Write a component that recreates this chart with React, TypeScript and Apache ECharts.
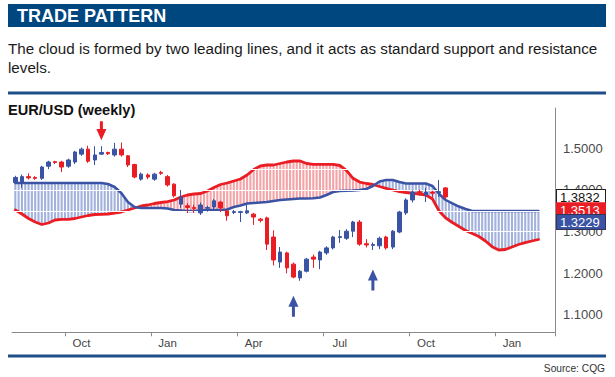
import React, { useEffect, useRef } from 'react';
import * as echarts from 'echarts';

// ---- data ----
const WEEK_START_UTC = Date.UTC(2009, 7, 3); // Monday of first weekly bar
const WEEK_COUNT = 82;
const MONTH_NAMES = ['Jan', 'Feb', 'Mar', 'Apr', 'May', 'Jun', 'Jul', 'Aug', 'Sep', 'Oct', 'Nov', 'Dec'];
const QUARTER_MONTHS = [0, 3, 6, 9];
const Y_TICKS = [1.1, 1.2, 1.3, 1.4, 1.5];
const PRICE_TAGS = [1.3832, 1.3513, 1.3229];
const CLOUD_GRID_LEVELS = [1.3, 1.35, 1.4, 1.45];

// weekly candles: [open, close, low, high]
const CANDLES = [
  [1.418, 1.430, 1.414, 1.434], [1.417, 1.432, 1.405, 1.437], [1.432, 1.429, 1.425, 1.440], [1.430, 1.428, 1.424, 1.433],
  [1.428, 1.455, 1.424, 1.458], [1.457, 1.467, 1.450, 1.470], [1.468, 1.466, 1.462, 1.470], [1.467, 1.455, 1.443, 1.470],
  [1.457, 1.472, 1.453, 1.475], [1.467, 1.491, 1.462, 1.494], [1.486, 1.498, 1.482, 1.502], [1.498, 1.469, 1.465, 1.506],
  [1.472, 1.484, 1.460, 1.505], [1.486, 1.490, 1.484, 1.505], [1.490, 1.487, 1.484, 1.492], [1.484, 1.498, 1.480, 1.513],
  [1.498, 1.484, 1.480, 1.514], [1.482, 1.460, 1.455, 1.484], [1.461, 1.431, 1.428, 1.463], [1.426, 1.438, 1.422, 1.442],
  [1.436, 1.431, 1.426, 1.440], [1.426, 1.438, 1.422, 1.441], [1.442, 1.440, 1.436, 1.446], [1.432, 1.412, 1.408, 1.436],
  [1.414, 1.386, 1.382, 1.416], [1.366, 1.383, 1.357, 1.400], [1.362, 1.358, 1.345, 1.368], [1.358, 1.355, 1.345, 1.365],
  [1.345, 1.364, 1.340, 1.370], [1.356, 1.358, 1.348, 1.362], [1.359, 1.374, 1.350, 1.378], [1.371, 1.357, 1.347, 1.374],
  [1.350, 1.338, 1.326, 1.352], [1.346, 1.348, 1.342, 1.352], [1.346, 1.348, 1.323, 1.350], [1.345, 1.350, 1.342, 1.364],
  [1.342, 1.335, 1.316, 1.345], [1.330, 1.327, 1.322, 1.333], [1.333, 1.270, 1.256, 1.336], [1.287, 1.232, 1.219, 1.303],
  [1.227, 1.251, 1.213, 1.263], [1.249, 1.213, 1.200, 1.252], [1.222, 1.191, 1.188, 1.226], [1.189, 1.205, 1.182, 1.208],
  [1.205, 1.234, 1.202, 1.237], [1.239, 1.234, 1.213, 1.245], [1.232, 1.251, 1.210, 1.254], [1.249, 1.261, 1.244, 1.265],
  [1.261, 1.287, 1.257, 1.290], [1.286, 1.288, 1.273, 1.304], [1.284, 1.301, 1.280, 1.306], [1.301, 1.323, 1.287, 1.326],
  [1.323, 1.270, 1.266, 1.328], [1.271, 1.268, 1.262, 1.282], [1.267, 1.269, 1.256, 1.274], [1.266, 1.284, 1.258, 1.288],
  [1.287, 1.261, 1.257, 1.290], [1.263, 1.301, 1.258, 1.304], [1.299, 1.347, 1.296, 1.350], [1.345, 1.376, 1.340, 1.380],
  [1.376, 1.395, 1.370, 1.399], [1.396, 1.393, 1.386, 1.400], [1.388, 1.395, 1.371, 1.405], [1.395, 1.392, 1.383, 1.398],
  [1.393, 1.396, 1.383, 1.424], [1.405, 1.3832, 1.378, 1.407],
];

// leading span A (red line)
const SPAN_A = [
  1.3519, 1.3423, 1.3315, 1.3231, 1.3171, 1.3207, 1.3279, 1.3296, 1.3296, 1.3315,
  1.3351, 1.3387, 1.3411, 1.3416, 1.3423, 1.3447, 1.3471, 1.3519, 1.3567, 1.3615,
  1.3639, 1.3675, 1.3699, 1.3718, 1.3759, 1.3831, 1.3879, 1.3903, 1.3915, 1.3975,
  1.4059, 1.4131, 1.4167, 1.4215, 1.4263, 1.4359, 1.4491, 1.4575, 1.4599, 1.4599,
  1.4635, 1.4671, 1.4695, 1.4695, 1.4635, 1.4616, 1.4616, 1.4616, 1.4616, 1.4587,
  1.4470, 1.4280, 1.4190, 1.4155, 1.4131, 1.4083, 1.4040, 1.3999, 1.3958, 1.3939,
  1.3920, 1.3903, 1.3879, 1.3783, 1.3495, 1.3327, 1.3219, 1.3123, 1.3027, 1.2955,
  1.2883, 1.2775, 1.2639, 1.2559, 1.2571, 1.2631, 1.2691, 1.2735, 1.2775, 1.2811,
];

// leading span B (blue line)
const SPAN_B = [
  1.4167, 1.4167, 1.4167, 1.4167, 1.4167, 1.4167, 1.4167, 1.4167, 1.4167, 1.4167,
  1.4167, 1.4167, 1.4167, 1.4167, 1.4143, 1.4071, 1.3927, 1.3711, 1.3591, 1.3567,
  1.3567, 1.3567, 1.3567, 1.3555, 1.3519, 1.3507, 1.3495, 1.3495, 1.3507, 1.3519,
  1.3519, 1.3519, 1.3531, 1.3591, 1.3627, 1.3675, 1.3687, 1.3699, 1.3711, 1.3735,
  1.3759, 1.3771, 1.3783, 1.3795, 1.3795, 1.3800, 1.3819, 1.3879, 1.3951, 1.3975,
  1.3982, 1.3987, 1.3999, 1.4023, 1.4095, 1.4203, 1.4239, 1.4239, 1.4191, 1.4155,
  1.4155, 1.4155, 1.4155, 1.4095, 1.3903, 1.3759, 1.3680, 1.3603, 1.3543, 1.3495,
  1.3495, 1.3495, 1.3495, 1.3495, 1.3495, 1.3495, 1.3495, 1.3495, 1.3495, 1.3495,
];

// signal arrows: week index, price at arrow centre, direction
const ARROWS = [
  { week: 13, value: 1.542, dir: 'down' },
  { week: 42, value: 1.1208, dir: 'up' },
  { week: 54, value: 1.184, dir: 'up' },
];

// ---- styling ----
const Y_MIN = 1.0584;
const Y_MAX = 1.5967;
const RED = '#ea1d25';
const BLUE = '#3a53a5';
const RED_STRIPE = '#f4a3a7';
const BLUE_STRIPE = '#a3b2dc';
const AXIS_GREY = '#8a8a8a';
const FONT = '"Liberation Sans", Arial, sans-serif';
const DOWN_ARROW = 'path://M3.5,0 L6.5,0 L6.5,8 L10,8 L5,20 L0,8 L3.5,8 Z';
const UP_ARROW = 'path://M5,0 L10,11 L6.5,11 L6.5,21 L3.5,21 L3.5,11 L0,11 Z';
const TAG_COLORS = [
  { bg: '#ffffff', fg: '#111111', border: '#222222' },
  { bg: RED, fg: '#ffffff', border: RED },
  { bg: BLUE, fg: '#ffffff', border: '#333355' },
];

const WEEKS = Array.from({ length: WEEK_COUNT }, (_, i) =>
  new Date(WEEK_START_UTC + i * 7 * 86400000).toISOString().slice(0, 10)
);

const parseDay = (v: string) => new Date(v + 'T00:00:00Z');
const isQuarterStartWeek = (v: string) => {
  const sun = new Date(parseDay(v).getTime() + 6 * 86400000);
  return QUARTER_MONTHS.includes(sun.getUTCMonth()) && sun.getUTCDate() <= 7;
};
const isQuarterLabelWeek = (v: string) => {
  const d = parseDay(v);
  return QUARTER_MONTHS.includes(d.getUTCMonth()) && d.getUTCDate() >= 10 && d.getUTCDate() <= 16;
};

export default function App() {
  const ref = useRef<HTMLDivElement>(null);

  useEffect(() => {
    if (!ref.current) return;
    const chart = echarts.init(ref.current, null, { renderer: 'svg' });

    const cloudData = SPAN_A.slice(0, -1).map((a, i) => [i, a, SPAN_B[i], SPAN_A[i + 1], SPAN_B[i + 1]]);
    const lastSeg = cloudData.length - 1;

    const renderCloud = (params: any, api: any) => {
      const i = api.value(0);
      const pa0 = api.coord([i, api.value(1)]);
      const pb0 = api.coord([i, api.value(2)]);
      const pa1 = api.coord([i + 1, api.value(3)]);
      const pb1 = api.coord([i + 1, api.value(4)]);
      const steps = i === lastSeg ? [0, 0.5, 1] : [0, 0.5];
      const children = steps.map((t) => {
        const x = pa0[0] + (pa1[0] - pa0[0]) * t;
        const ya = pa0[1] + (pa1[1] - pa0[1]) * t;
        const yb = pb0[1] + (pb1[1] - pb0[1]) * t;
        return {
          type: 'line',
          shape: { x1: x, y1: ya, x2: x, y2: yb },
          style: { stroke: ya < yb ? RED_STRIPE : BLUE_STRIPE, lineWidth: 2.1 },
        };
      });
      return { type: 'group', children };
    };

    const tagAxes = PRICE_TAGS.map((tag, k) => ({
      type: 'value',
      position: 'right',
      min: Y_MIN,
      max: Y_MAX,
      z: 10 + k,
      splitLine: { show: false },
      axisTick: { show: false },
      axisLine: { show: false },
      axisLabel: {
        customValues: [tag],
        showMinLabel: true,
        showMaxLabel: true,
        hideOverlap: false,
        margin: 2,
        formatter: () => `{t|${tag.toFixed(4)}}`,
        rich: {
          t: {
            color: TAG_COLORS[k].fg,
            backgroundColor: TAG_COLORS[k].bg,
            borderColor: TAG_COLORS[k].border,
            borderWidth: 1,
            fontSize: 13,
            lineHeight: 10,
            width: 43,
            padding: [1, 2, 0, 3],
            fontFamily: FONT,
          },
        },
      },
    }));

    const option: any = {
      animation: false,
      backgroundColor: '#ffffff',
      textStyle: { fontFamily: FONT },
      grid: { left: 12, right: 60, top: 108, bottom: 44.7, containLabel: false, outerBoundsMode: 'none' },
      xAxis: {
        type: 'category',
        data: WEEKS,
        boundaryGap: true,
        axisLine: { lineStyle: { color: AXIS_GREY, width: 1 } },
        axisTick: {
          show: true,
          length: 4,
          interval: (_i: number, v: string) => isQuarterStartWeek(v),
          lineStyle: { color: AXIS_GREY },
        },
        axisLabel: {
          interval: (_i: number, v: string) => isQuarterLabelWeek(v),
          formatter: (v: string) => MONTH_NAMES[parseDay(v).getUTCMonth()],
          color: '#444',
          fontSize: 11.5,
          margin: 5,
        },
        splitLine: { show: false },
      },
      yAxis: [
        {
          type: 'value',
          position: 'right',
          min: Y_MIN,
          max: Y_MAX,
          splitLine: { show: false },
          axisTick: { show: false },
          axisLine: { show: true, lineStyle: { color: AXIS_GREY, width: 1 } },
          axisLabel: {
            customValues: Y_TICKS,
            formatter: (v: number) => v.toFixed(4),
            color: '#4a4a4a',
            fontSize: 13,
            margin: 8,
          },
        },
        ...tagAxes,
      ],
      series: [
        {
          type: 'custom',
          name: 'cloud',
          renderItem: renderCloud,
          data: cloudData,
          encode: { x: 0, y: [1, 2, 3, 4] },
          silent: true,
          z: 1,
        },
        {
          type: 'line',
          name: 'cloud grid',
          data: [],
          silent: true,
          z: 2,
          markLine: {
            silent: true,
            symbol: 'none',
            label: { show: false },
            lineStyle: { color: '#ffffff', width: 1, type: 'solid' },
            data: CLOUD_GRID_LEVELS.map((v) => ({ yAxis: v })),
          },
        },
        {
          type: 'line',
          name: 'Span A',
          data: SPAN_A,
          showSymbol: false,
          symbol: 'none',
          lineStyle: { color: RED, width: 2.8, cap: 'round', join: 'round' },
          silent: true,
          z: 3,
        },
        {
          type: 'line',
          name: 'Span B',
          data: SPAN_B,
          showSymbol: false,
          symbol: 'none',
          lineStyle: { color: BLUE, width: 2.5, cap: 'round', join: 'round' },
          silent: true,
          z: 4,
        },
        {
          type: 'candlestick',
          name: 'EUR/USD',
          data: CANDLES,
          barWidth: 4,
          silent: true,
          z: 5,
          itemStyle: {
            color: BLUE,
            color0: RED,
            borderColor: BLUE,
            borderColor0: RED,
            borderWidth: 1,
          },
          markPoint: {
            silent: true,
            label: { show: false },
            data: ARROWS.map((a) => ({
              coord: [WEEKS[a.week], a.value],
              symbol: a.dir === 'down' ? DOWN_ARROW : UP_ARROW,
              symbolSize: a.dir === 'down' ? [10, 19] : [10, 21],
              itemStyle: { color: a.dir === 'down' ? RED : BLUE },
            })),
          },
        },
      ],
      graphic: [
        { type: 'rect', shape: { x: 8, y: 4, width: 598, height: 23 }, style: { fill: '#00467f' } },
        {
          type: 'text', x: 17, y: 16,
          style: { text: 'TRADE PATTERN', fill: '#ffffff', fontSize: 18, fontWeight: 'bold', fontFamily: FONT, verticalAlign: 'middle' },
        },
        {
          type: 'text', x: 8, y: 48,
          style: {
            text: 'The cloud is formed by two leading lines, and it acts as standard support and resistance',
            fill: '#1a1a1a', fontSize: 15.2, fontFamily: FONT, verticalAlign: 'middle',
          },
        },
        {
          type: 'text', x: 8, y: 67,
          style: { text: 'levels.', fill: '#1a1a1a', fontSize: 15.2, fontFamily: FONT, verticalAlign: 'middle' },
        },
        { type: 'rect', shape: { x: 8, y: 91.5, width: 598, height: 3 }, style: { fill: '#1d4e89' } },
        {
          type: 'text', x: 8, y: 110,
          style: { text: 'EUR/USD (weekly)', fill: '#111111', fontSize: 14.6, fontWeight: 'bold', fontFamily: FONT, verticalAlign: 'middle' },
        },
        { type: 'rect', shape: { x: 8, y: 354.5, width: 598, height: 3 }, style: { fill: '#1d4e89' } },
        {
          type: 'text', x: 605, y: 368,
          style: { text: 'Source: CQG', fill: '#333333', fontSize: 10.2, fontFamily: FONT, align: 'right', verticalAlign: 'middle' },
        },
      ],
    };

    chart.setOption(option);
    return () => chart.dispose();
  }, []);

  return (
    <div
      ref={ref}
      style={{ position: 'fixed', left: 0, top: 0, width: 615, height: 377, background: '#ffffff' }}
    />
  );
}
